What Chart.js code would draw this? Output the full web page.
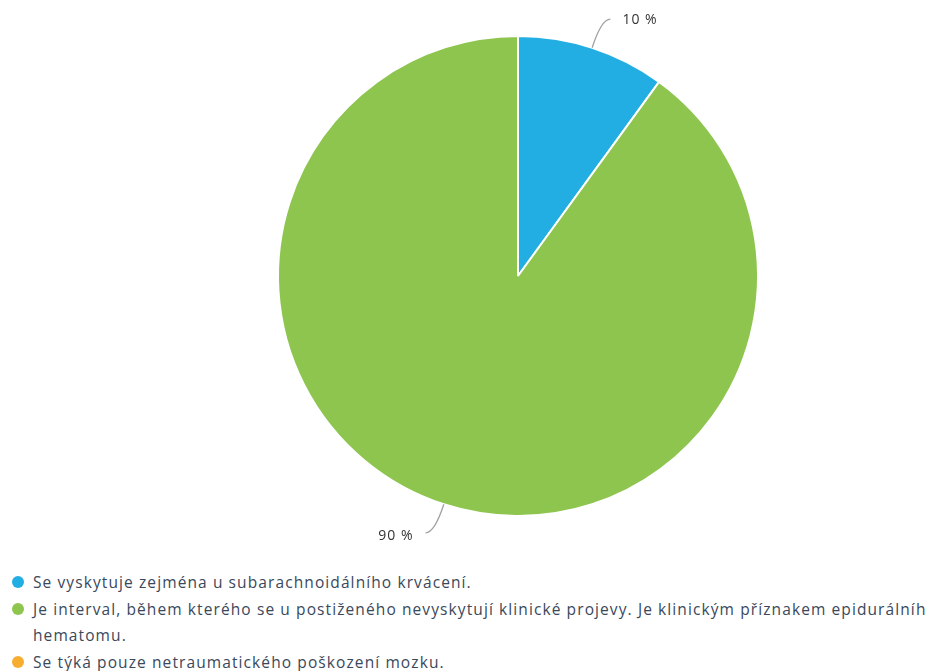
<!DOCTYPE html>
<html>
<head>
<meta charset="utf-8">
<script src="https://cdn.jsdelivr.net/npm/chart.js@4.4.0/dist/chart.umd.min.js"></script>
<style>
  html, body { margin: 0; padding: 0; background: #fff; overflow: hidden; width: 926px; height: 671px; }
  #wrap { position: absolute; left: 0; top: 0; width: 926px; height: 560px; }
  #legend { position: absolute; left: 0; top: 569px; width: 1000px; font-family: "Open Sans", sans-serif; font-size: 15.5px; letter-spacing: 1.1px; color: #3a485b; }
  #legend .item { position: relative; padding-left: 33px; line-height: 26.5px; }
  #legend .dot { position: absolute; left: 12px; top: 7px; width: 12px; height: 12px; border-radius: 50%; }
</style>
</head>
<body>
<div id="wrap"><canvas id="pie"></canvas></div>
<div id="legend"></div>
<script>
// answer options and share of responses (%)
const labels = [
  'Se vyskytuje zejména u subarachnoidálního krvácení.',
  'Je interval, během kterého se u postiženého nevyskytují klinické projevy. Je klinickým příznakem epidurálního hematomu.',
  'Se týká pouze netraumatického poškození mozku.'
];
const values = [10, 90, 0];
const colors = ['#22aee3', '#8dc54f', '#f7ae30'];

// percentage labels with curved leader lines
const sliceLabels = {
  id: 'sliceLabels',
  afterDatasetsDraw(chart) {
    const ctx = chart.ctx;
    const meta = chart.getDatasetMeta(0);
    meta.data.forEach((arc, i) => {
      if (!values[i]) return;
      const mid = (arc.startAngle + arc.endAngle) / 2;
      const r = arc.outerRadius;
      const cos = Math.cos(mid), sin = Math.sin(mid);
      const x0 = arc.x + cos * r, y0 = arc.y + sin * r;
      const x1 = arc.x + cos * (r + 30), y1 = arc.y + sin * (r + 30);
      const right = cos >= 0;
      const x2 = x1 + (right ? 9 : -9);
      ctx.save();
      ctx.strokeStyle = '#a0a0a0';
      ctx.lineWidth = 1.3;
      ctx.beginPath();
      ctx.moveTo(x0, y0);
      ctx.quadraticCurveTo(x1, y1, x2, y1);
      ctx.stroke();
      ctx.fillStyle = '#333';
      ctx.font = '14px "Open Sans", sans-serif';
      ctx.letterSpacing = '1px';
      ctx.textBaseline = 'middle';
      ctx.textAlign = right ? 'left' : 'right';
      ctx.fillText(values[i] + ' %', x2 + (right ? 12 : -12), y1 + (right ? 1 : 3));
      ctx.restore();
    });
  }
};

const ctx = document.getElementById('pie').getContext('2d');
new Chart(ctx, {
  type: 'pie',
  data: {
    labels: labels,
    datasets: [{
      data: values,
      backgroundColor: colors,
      borderColor: '#ffffff',
      borderWidth: 2
    }]
  },
  options: {
    responsive: true,
    maintainAspectRatio: false,
    animation: false,
    layout: { padding: { left: 110, right: 0, top: 35, bottom: 43 } },
    plugins: {
      legend: { display: false },
      tooltip: { enabled: false }
    }
  },
  plugins: [sliceLabels]
});

// legend below the chart
const legend = document.getElementById('legend');
labels.forEach((text, i) => {
  legend.innerHTML += `<div class="item"><span class="dot" style="background:${colors[i]}"></span>${text}</div>`;
});
</script>
</body>
</html>
